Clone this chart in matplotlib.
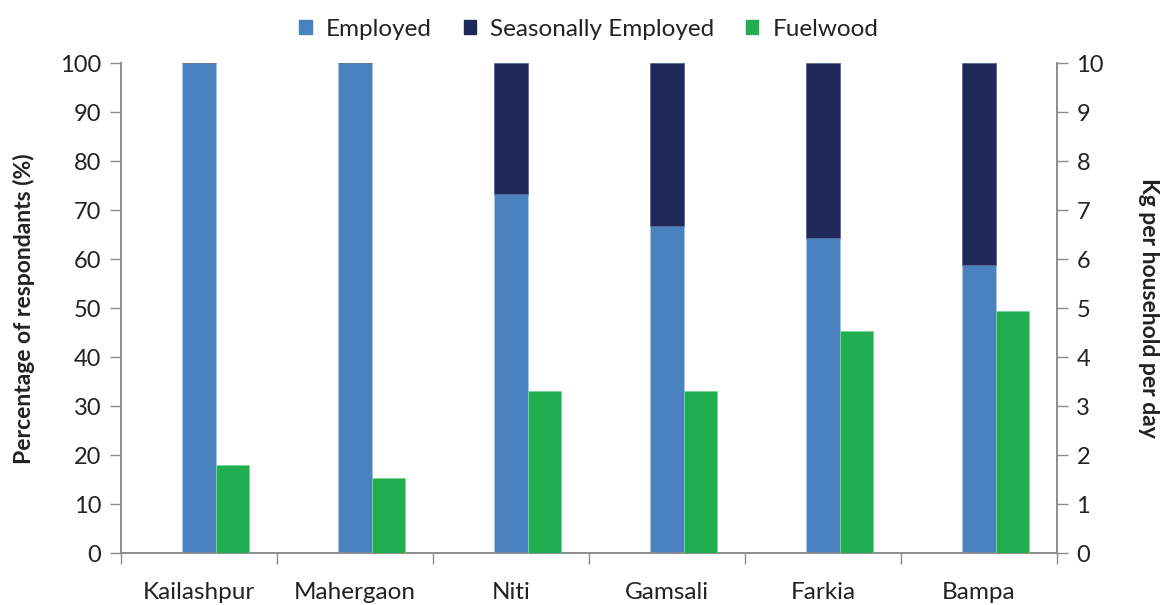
import numpy as np
import matplotlib.pyplot as plt
from matplotlib.patches import Patch

plt.rcParams['font.family'] = ['Lato', 'DejaVu Sans']

villages = ['Kailashpur', 'Mahergaon', 'Niti', 'Gamsali', 'Farkia', 'Bampa']
employed = [100, 100, 73.3, 66.7, 64.3, 58.8]
seasonal = [0, 0, 26.7, 33.3, 35.7, 41.2]
fuelwood = [1.8, 1.54, 3.31, 3.31, 4.53, 4.94]   # kg per household per day

c_emp = '#4A81BF'
c_sea = '#1F285B'
c_fuel = '#21AE51'
grey = '#8C8C8C'
txt = '#222222'

x = np.arange(len(villages))
w = 0.215

fig = plt.figure(figsize=(11.62, 6.05), dpi=100)
ax = fig.add_axes([0.1039, 0.0855, 0.8057, 0.8099])
ax2 = ax.twinx()

ax.bar(x, employed, w, color=c_emp, edgecolor='#A9C2E0', linewidth=0.6, zorder=3)
ax.bar(x, seasonal, w, bottom=employed, color=c_sea, edgecolor='#5A6690', linewidth=0.6, zorder=3)
ax2.bar(x + w, fuelwood, w, color=c_fuel, edgecolor='#7ED39B', linewidth=0.6, zorder=3)

ax.set_xlim(-0.5, len(villages) - 0.5)
ax.set_ylim(0, 100)
ax2.set_ylim(0, 10)
ax.set_yticks(np.arange(0, 101, 10))
ax2.set_yticks(np.arange(0, 11, 1))

# boundary ticks on the category axis, labels sit on minor ticks at the centres
ax.set_xticks(np.arange(-0.5, len(villages), 1))
ax.set_xticklabels([])
ax.set_xticks(x, minor=True)
ax.set_xticklabels(villages, minor=True)
ax.tick_params(axis='x', which='major', direction='out', length=8, color=grey, width=1)
ax.tick_params(axis='x', which='minor', length=0, pad=21, labelsize=17.5, labelcolor=txt)

ax.tick_params(axis='y', direction='out', length=8, color=grey, width=1,
               labelsize=17, labelcolor=txt, pad=6)
ax2.tick_params(axis='y', direction='out', length=8, color=grey, width=1,
                labelsize=17, labelcolor=txt, pad=6)

for a in (ax, ax2):
    a.spines['top'].set_visible(False)
    for s in ('left', 'right', 'bottom'):
        a.spines[s].set_color(grey)
        a.spines[s].set_linewidth(1.2)

ax.set_ylabel('Percentage of respondants (%)', fontsize=16.5, fontweight='bold',
              color=txt, labelpad=18)
ax2.set_ylabel('Kg per household per day', fontsize=16.5, fontweight='bold',
               color=txt, rotation=270, labelpad=40)

handles = [Patch(color=c_emp), Patch(color=c_sea), Patch(color=c_fuel)]
fig.legend(handles, ['Employed', 'Seasonally Employed', 'Fuelwood'],
           loc='center', bbox_to_anchor=(0.507, 0.952), ncol=3, frameon=False,
           fontsize=17.5, handlelength=0.5, handleheight=0.5, handletextpad=0.6,
           columnspacing=1.3, labelcolor=txt)

fig.savefig('out.png', dpi=100)
